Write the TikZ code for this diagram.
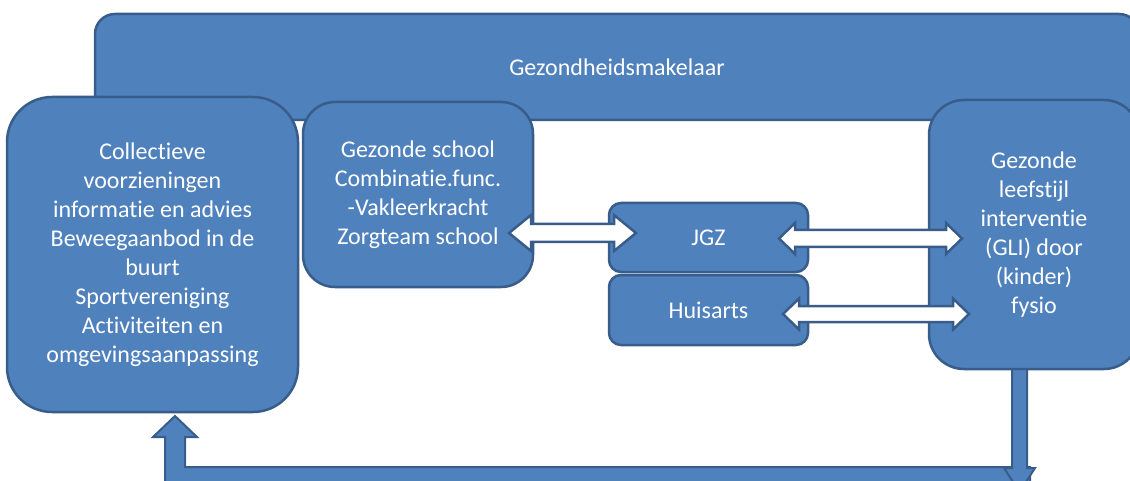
\documentclass[tikz,border=0pt]{standalone}
\usepackage{fontspec}
\setmainfont{Carlito}[Ligatures={NoCommon}, RawFeature={-liga;-clig;-dlig}]
\usetikzlibrary{calc}
\definecolor{boxfill}{HTML}{4F81BD}
\definecolor{boxline}{HTML}{385D8A}
\tikzset{
  blk/.style={draw=boxline, fill=boxfill, line width=2.5pt, text=white,
    font=\fontsize{24}{29}\selectfont, align=center, inner sep=0pt},
  arr/.style={draw=boxline, fill=white, line width=2.5pt, line join=miter},
  bigarr/.style={draw=boxline, fill=boxfill, line width=2pt, line join=miter},
}
\newcommand\dblarrow[5]{%
  \path[arr] let \p1=(#1), \p2=(#2) in
    (\x1,\y1) -- (\x1+#3pt,\y1+#4pt) -- (\x1+#3pt,\y1+#5pt) -- (\x2-#3pt,\y1+#5pt)
    -- (\x2-#3pt,\y1+#4pt) -- (\x2,\y1) -- (\x2-#3pt,\y1-#4pt) -- (\x2-#3pt,\y1-#5pt)
    -- (\x1+#3pt,\y1-#5pt) -- (\x1+#3pt,\y1-#4pt) -- cycle;}
\begin{document}
\begin{tikzpicture}[x=1pt,y=-1pt]
\useasboundingbox (0,0) rectangle (1130,481);
\fill[white] (0,0) rectangle (1130,481);
\begin{scope}
\clip (0,0) rectangle (1130,481);
% top box
\node[blk, rounded corners=20, minimum width=1044, minimum height=106] (makelaar) at (617,67) {Gezondheidsmakelaar};
% main boxes
\node[blk, rounded corners=45, minimum width=291, minimum height=315] (coll) at (152.5,254.5)
  {Collectieve\\voorzieningen\\informatie en advies\\Beweegaanbod in de\\buurt\\Sportvereniging\\Activiteiten en\\omgevingsaanpassing};
\node[blk, rounded corners=32, minimum width=230, minimum height=185] (school) at (418,194.5)
  {Gezonde school\\Combinatie.func.\\-Vakleerkracht\\Zorgteam school};
\node[blk, rounded corners=35, minimum width=210, minimum height=269] (gli) at (1034,234.5)
  {Gezonde\\leefstijl\\interventie\\(GLI) door\\(kinder)\\fysio};
\node[blk, rounded corners=12, minimum width=199, minimum height=69] (jgz) at (708.5,237.5) {JGZ};
\node[blk, rounded corners=12, minimum width=199, minimum height=70] (huis) at (708.5,310) {Huisarts};
% double arrows
\coordinate (a1l) at (509,233);
\coordinate (a1r) at (636,233);
\coordinate (a2l) at (779,238.5);
\coordinate (a2r) at (962,238.5);
\coordinate (a3l) at (783,314);
\coordinate (a3r) at (969,314);
\dblarrow{a1l}{a1r}{22}{18}{9}
\dblarrow{a2l}{a2r}{16}{15.5}{8.5}
\dblarrow{a3l}{a3r}{16}{15.5}{8}
% feedback arrow
\coordinate (fbtip) at (175,416);
\coordinate (downtop) at (1019.5,369);
\path[bigarr] (1030,467) -- (185,467) -- (185,437) -- (197,437) -- (fbtip) -- (153,437)
  -- (165,437) -- (165,495) -- (1030,495) -- cycle;
\path[bigarr] (1012,369) -- (1012,468) -- (1004,468) -- (1019.5,492) -- (1035,468)
  -- (1027,468) -- (1027,369) -- cycle;
\end{scope}
\end{tikzpicture}
\end{document}
